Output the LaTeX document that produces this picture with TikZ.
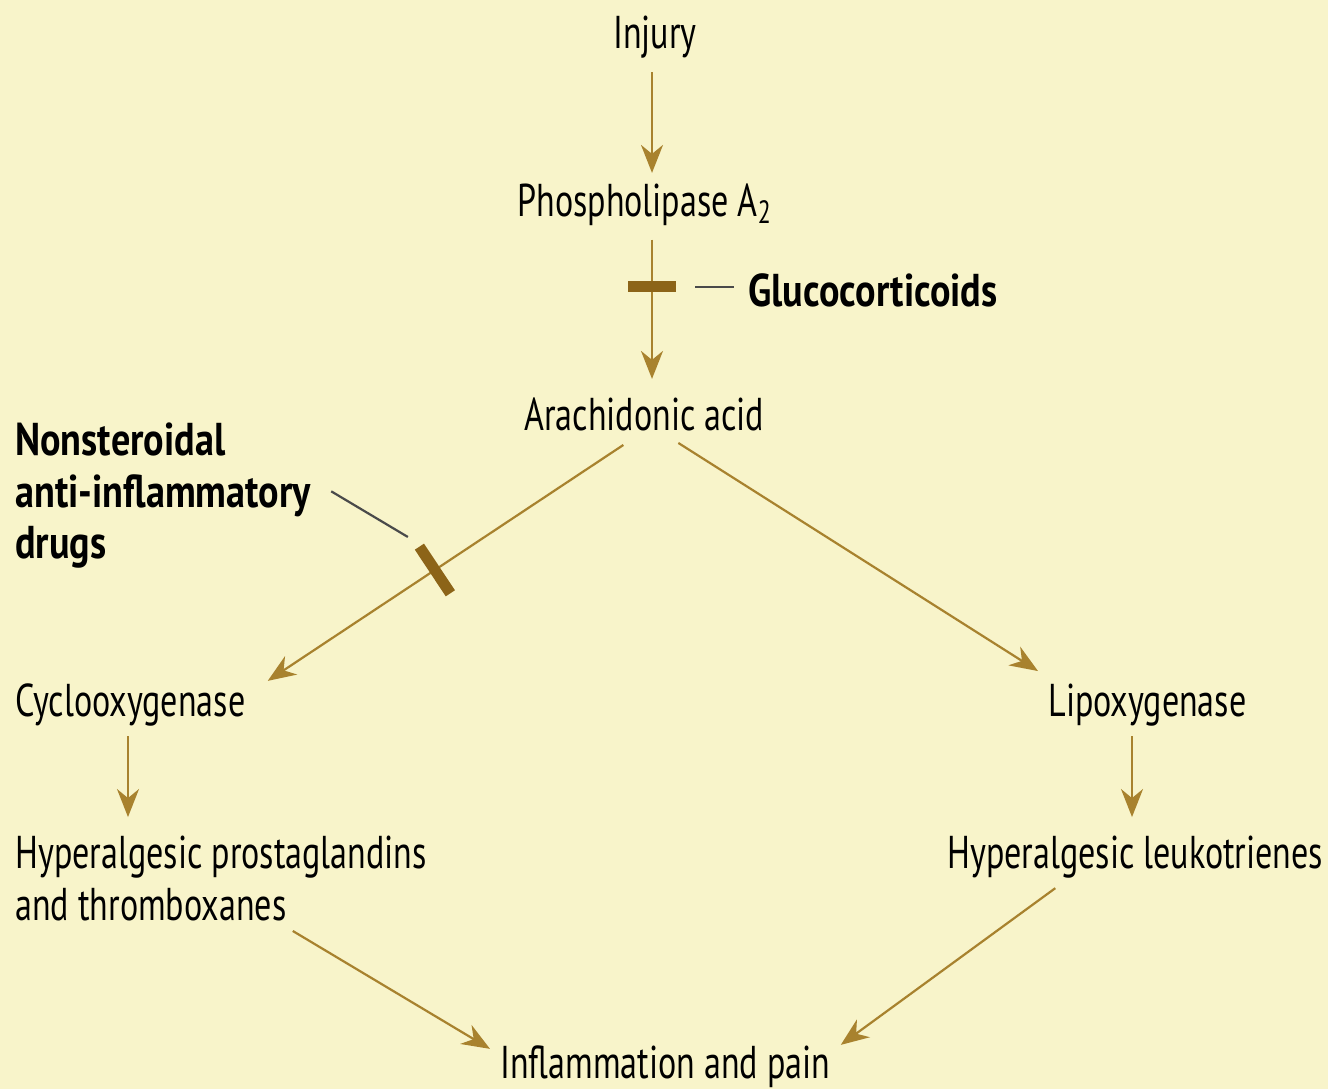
\documentclass[tikz,border=0pt]{standalone}
\usepackage{fontspec}
\setmainfont{PT Sans}[FakeStretch=0.74, BoldFeatures={FakeStretch=0.83}]
\usetikzlibrary{arrows.meta,calc}
\definecolor{bg}{HTML}{F8F4CA}
\definecolor{arrcol}{HTML}{A8822E}
\definecolor{barcol}{HTML}{8C6418}
\definecolor{leadcol}{HTML}{4A4A4A}
\begin{document}
\begin{tikzpicture}[x=0.5pt,y=-0.5pt,
  lbl/.style={font=\fontsize{23}{26}\selectfont, inner sep=5pt, text=black},
  lblb/.style={lbl, font=\fontsize{23}{26}\selectfont\bfseries},
  arr/.style={draw=arrcol, line width=1.1pt, -{Stealth[length=14pt,width=11pt,inset=4.5pt]}},
  inhib/.style={fill=barcol, inner sep=0pt, minimum width=5.5pt, sloped},
  lead/.style={draw=leadcol, line width=1.1pt}]
\fill[bg] (0,0) rectangle (1328,1089);
\useasboundingbox (0,0) rectangle (1328,1089);

\node[lbl, anchor=base] (injury) at (655,48) {Injury};
\node[lbl, anchor=base west] (pla) at (507,216) {Phospholipase A\textsubscript{2}};
\node[lblb, anchor=base west] (gluco) at (738,306) {Glucocorticoids};
\node[lbl, anchor=base west] (aa) at (514,430) {Arachidonic acid};
\node[lblb, anchor=base west] (ns1) at (5,455) {Nonsteroidal};
\node[lblb, anchor=base west] (ns2) at (5,507) {anti-inflammatory};
\node[lblb, anchor=base west] (ns3) at (5,558) {drugs};
\node[lbl, anchor=base west] (cyc) at (5,716) {Cyclooxygenase};
\node[lbl, anchor=base west] (lipo) at (1038,716) {Lipoxygenase};
\node[lbl, anchor=base west] (hp1) at (5,868) {Hyperalgesic prostaglandins};
\node[lbl, anchor=base west] (hp2) at (5,920) {and thromboxanes};
\node[lbl, anchor=base west] (hl) at (937,868) {Hyperalgesic leukotrienes};
\node[lbl, anchor=base west] (inf) at (490,1078) {Inflammation and pain};

% vertical chain
\draw[arr] ($(injury.south)+(-1.5pt,-2pt)$) -- ($(injury.south |- pla.north)+(-1.5pt,0)$);
\draw[arr] ($(pla.south -| injury.south)+(-1.5pt,-2pt)$) -- node[inhib, pos=0.34, minimum height=24pt] (gbar) {} ($(aa.north -| injury.south)+(-1.5pt,4pt)$);
\draw[lead] ($(gbar.center)+(21.5pt,0)$) -- ($(gbar.center -| gluco.west)+(-2pt,0)$);

% branches
\draw[arr] ($(aa.south)+(-10.5pt,-2pt)$) -- node[inhib, pos=0.53, minimum height=28pt] (nbar) {} ($(cyc.north east)+(6pt,-4pt)$);
\draw[lead] ($(ns2.east)+(5pt,2pt)$) -- ($(nbar.center)+(-13.5pt,16.5pt)$);
\draw[arr] ($(aa.south)+(17pt,-1pt)$) -- ($(lipo.north west)+(0,1pt)$);

\draw[arr] (cyc.south -| 128,0) -- ($(hp1.north -| 128,0)+(0,4pt)$);
\draw[arr] (lipo.south -| 1132,0) -- ($(hl.north -| 1132,0)+(0,4pt)$);

\draw[arr] ($(hp2.south east)+(-2pt,0)$) -- ($(inf.north west)+(0,-7pt)$);
\draw[arr] ($(hl.south)+(-40pt,0)$) -- ($(inf.north east)+(0,-5pt)$);
\end{tikzpicture}
\end{document}
